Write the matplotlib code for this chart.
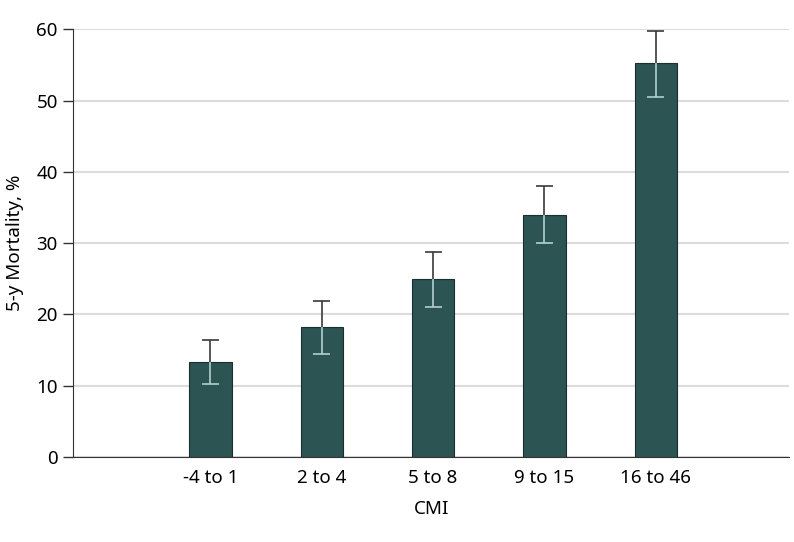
import matplotlib
matplotlib.use("Agg")
import matplotlib.pyplot as plt
import numpy as np

matplotlib.rcParams['font.family'] = ['Noto Sans', 'DejaVu Sans']
matplotlib.rcParams['font.size'] = 13.5

categories = ["-4 to 1", "2 to 4", "5 to 8", "9 to 15", "16 to 46"]
mortality = [13.3, 18.2, 25.0, 34.0, 55.2]
ci_low = [10.2, 14.4, 21.0, 30.0, 50.5]
ci_high = [16.4, 21.9, 28.8, 38.0, 59.7]

BAR_COLOR = "#2b5453"
fig = plt.figure(figsize=(7.94, 5.42), dpi=100)
ax = fig.add_axes([0.092, 0.157, 0.902, 0.789])

x = np.arange(len(categories))
ax.bar(x, mortality, width=0.38, color=BAR_COLOR, edgecolor="#1c2e2e",
       linewidth=0.8, zorder=3)

# error bars: dark part above the bar, light part inside it
cap = 0.077
ax.vlines(x, mortality, ci_high, color="#3a3a3a", linewidth=1.2, zorder=4)
ax.hlines(ci_high, x - cap, x + cap, color="#3a3a3a", linewidth=1.2, zorder=4)
ax.vlines(x, ci_low, mortality, color="#b3d0cd", linewidth=1.2, zorder=4)
ax.hlines(ci_low, x - cap, x + cap, color="#b3d0cd", linewidth=1.2, zorder=4)

ax.set_xlim(-1.235, 5.2)
ax.set_ylim(0, 60)
ax.set_yticks(range(0, 61, 10))
ax.set_xticks(x)
ax.set_xticklabels(categories)
ax.yaxis.grid(True, color="#dcdcdc", linewidth=1.5, zorder=0)
ax.set_axisbelow(True)

for side in ["top", "right"]:
    ax.spines[side].set_visible(False)
ax.spines["left"].set_color("#333333")
ax.spines["bottom"].set_color("#333333")
ax.tick_params(axis="y", length=7, width=1, color="#333333", pad=4)
ax.tick_params(axis="x", length=0, pad=9)

ax.set_xlabel("CMI", labelpad=9)
ax.set_ylabel("5-y Mortality, %", labelpad=9)

fig.savefig("out.png", dpi=100)
